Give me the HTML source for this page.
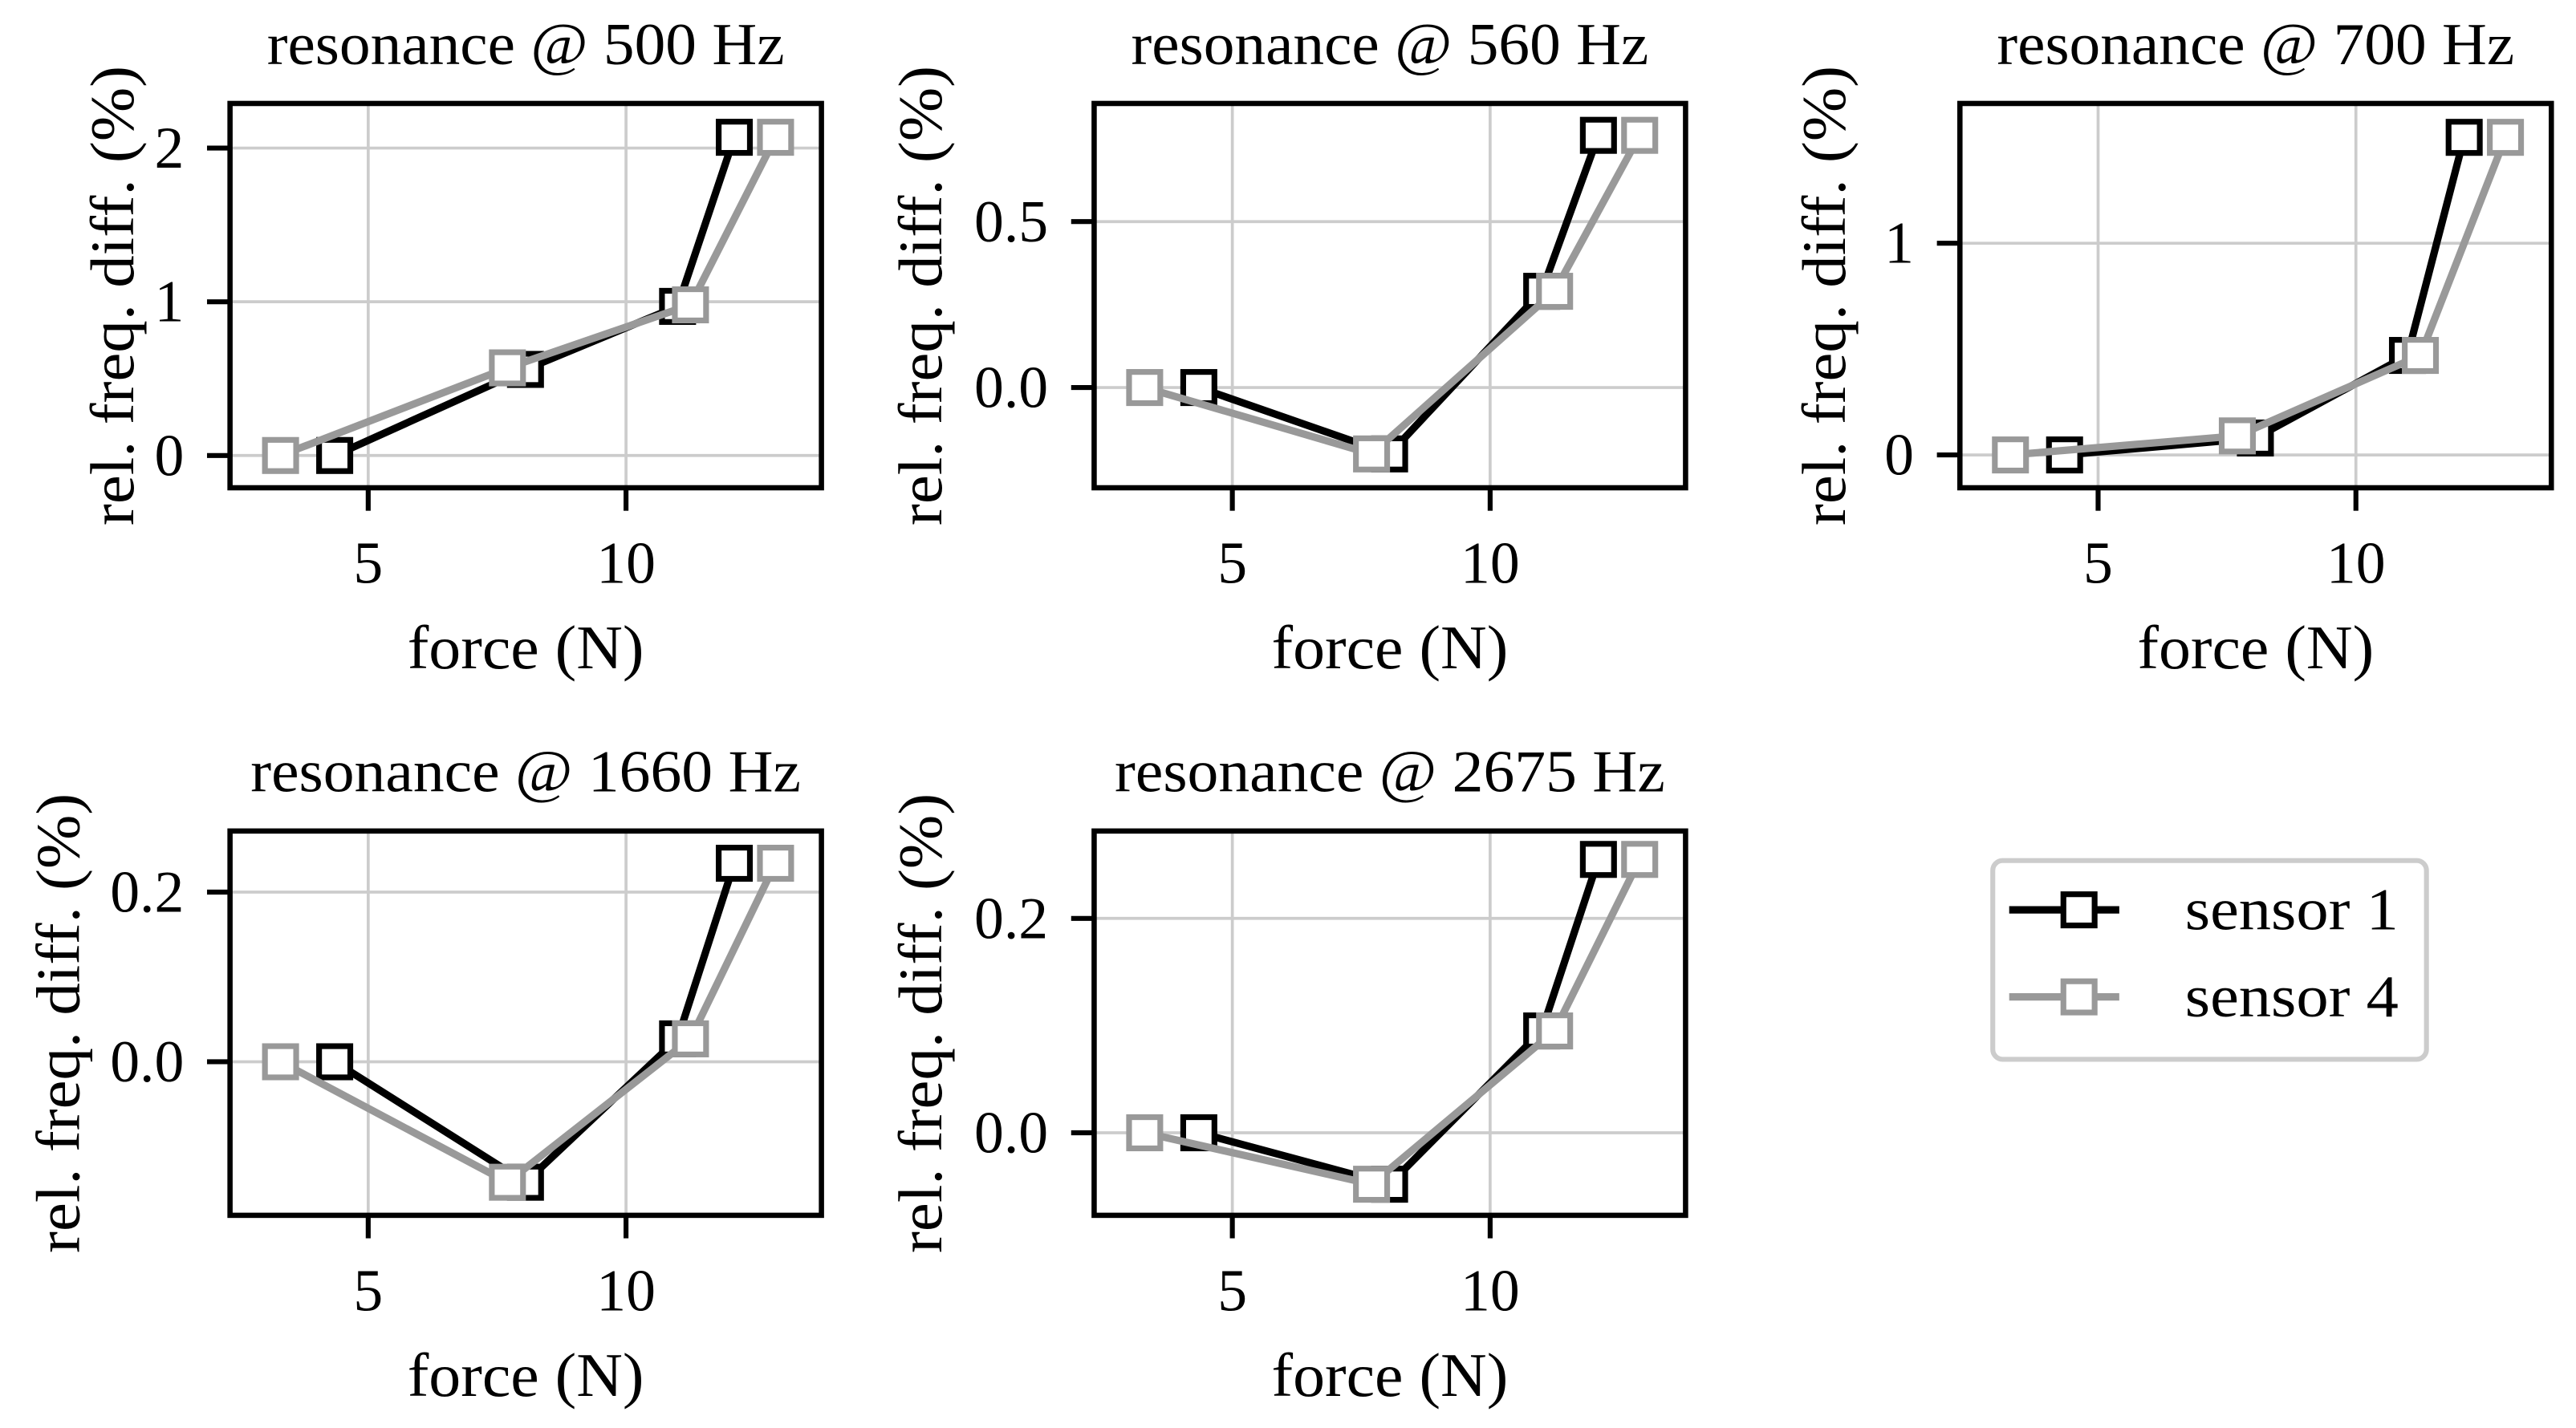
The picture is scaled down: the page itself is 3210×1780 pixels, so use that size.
<!DOCTYPE html>
<html><head><meta charset="utf-8">
<style>
html,body{margin:0;padding:0;background:#fff;}
svg{display:block;}
text{font-family:"Liberation Serif",serif;fill:#000;}
</style></head>
<body>
<svg id="fig" width="3210" height="1780" viewBox="0 0 1568 869.5" xmlns="http://www.w3.org/2000/svg"></svg>
<script>
const forceS1 = [4.35, 8.05, 11.0, 12.1];
const forceS4 = [3.3, 7.7, 11.25, 12.9];
const titles = ["resonance @ 500 Hz","resonance @ 560 Hz","resonance @ 700 Hz","resonance @ 1660 Hz","resonance @ 2675 Hz"];
const s1Values = [
  [0, 0.56, 0.97, 2.07],
  [0, -0.2, 0.29, 0.76],
  [0, 0.08, 0.47, 1.5],
  [0, -0.142, 0.027, 0.234],
  [0, -0.048, 0.095, 0.255]
];
const s4Values = [
  [0, 0.57, 0.98, 2.07],
  [0, -0.2, 0.29, 0.76],
  [0, 0.09, 0.47, 1.5],
  [0, -0.142, 0.027, 0.234],
  [0, -0.048, 0.095, 0.255]
];
const yTicks = [[0,1,2],[0,0.5],[0,1],[0,0.2],[0,0.2]];
const yTickLabels = [["0","1","2"],["0.0","0.5"],["0","1"],["0.0","0.2"],["0.0","0.2"]];
const yRanges = [[-0.21,2.29],[-0.302,0.856],[-0.155,1.66],[-0.181,0.272],[-0.077,0.2815]];
const xTicks = [5,10];
const xRange = [2.32,13.79];

const NS="http://www.w3.org/2000/svg";
const svg=document.getElementById('fig');
function mk(tag,attrs,parent){const e=document.createElementNS(NS,tag);for(const k in attrs)e.setAttribute(k,attrs[k]);(parent||svg).appendChild(e);return e;}
const boxes=[[140,63],[666,63],[1193,63],[140,506],[666,506]];
const W=360,H=234;
const slugs=["500hz","560hz","700hz","1660hz","2675hz"];
const titleLens=[315,315,315,335,335];
boxes.forEach((b,i)=>{
  const [bx,by]=b;
  const g=mk('g',{});
  
  
  const xs=v=>bx+(v-xRange[0])/(xRange[1]-xRange[0])*W;
  const ys=v=>by+H-(v-yRanges[i][0])/(yRanges[i][1]-yRanges[i][0])*H;
  xTicks.forEach(t=>{
    const l=mk('line',{x1:xs(t),x2:xs(t),y1:by,y2:by+H,stroke:'#cccccc','stroke-width':1.8},g);
    
    
    const tk=mk('line',{x1:xs(t),x2:xs(t),y1:by+H,y2:by+H+14,stroke:'#000','stroke-width':3},g);
    
    
    const tx=mk('text',{x:xs(t),y:by+H+58,'text-anchor':'middle','font-size':36},g);
    tx.textContent=String(t);
    
    
  });
  yTicks[i].forEach((t,j)=>{
    const l=mk('line',{x1:bx,x2:bx+W,y1:ys(t),y2:ys(t),stroke:'#cccccc','stroke-width':1.8},g);
    
    
    const tk=mk('line',{x1:bx-14,x2:bx,y1:ys(t),y2:ys(t),stroke:'#000','stroke-width':3},g);
    
    
    const tx=mk('text',{x:bx-28,y:ys(t)+12,'text-anchor':'end','font-size':36},g);
    tx.textContent=yTickLabels[i][j];
    
    
  });
  const series=[[forceS1,s1Values[i],'#000000','sensor-1'],[forceS4,s4Values[i],'#999999','sensor-4']];
  series.forEach(([fx,vals,col,nm])=>{
    const pts=fx.map((f,k)=>xs(f)+','+ys(vals[k])).join(' ');
    const pl=mk('polyline',{points:pts,fill:'none',stroke:col,'stroke-width':4.5,'stroke-linejoin':'round'},g);
    
    
    fx.forEach((f,k)=>{
      const r=mk('rect',{x:xs(f)-9.5,y:ys(vals[k])-9.5,width:19,height:19,fill:'#fff',stroke:col,'stroke-width':3.5},g);
      
      
    });
  });
  const fr=mk('rect',{x:bx,y:by,width:W,height:H,fill:'none',stroke:'#000','stroke-width':3.2},g);
  
  
  const ti=mk('text',{x:bx+W/2,y:by-24,'text-anchor':'middle','font-size':36,textLength:titleLens[i],lengthAdjust:'spacingAndGlyphs'},g);
  ti.textContent=titles[i];
  
  
  const xl=mk('text',{x:bx+W/2,y:by+H+110,'text-anchor':'middle','font-size':38,textLength:144,lengthAdjust:'spacingAndGlyphs'},g);
  xl.textContent='force (N)';
  
  
  const ylx=[81,573,1123,48,573][i];
  const yl=mk('text',{x:ylx,y:by+H/2,'text-anchor':'middle','font-size':38,textLength:280,lengthAdjust:'spacingAndGlyphs',transform:`rotate(-90 ${ylx} ${by+H/2})`},g);
  yl.textContent='rel. freq. diff. (%)';
  
  
});
const lg=mk('g',{});


const lb=mk('rect',{x:1213,y:524,width:264,height:121,rx:6,fill:'#fff',stroke:'#cccccc','stroke-width':3},lg);


[['sensor 1','#000000',554],['sensor 4','#999999',607]].forEach(([lab,col,y])=>{
  const e=mk('g',{},lg);
  
  
  mk('line',{x1:1223,x2:1290,y1:y,y2:y,stroke:col,'stroke-width':4.5},e);
  mk('rect',{x:1256,y:y-9.5,width:19,height:19,fill:'#fff',stroke:col,'stroke-width':3.5},e);
  const t=mk('text',{x:1330,y:y+12,'font-size':36,textLength:130,lengthAdjust:'spacingAndGlyphs'},e);
  t.textContent=lab;
});
</script>
</body></html>
